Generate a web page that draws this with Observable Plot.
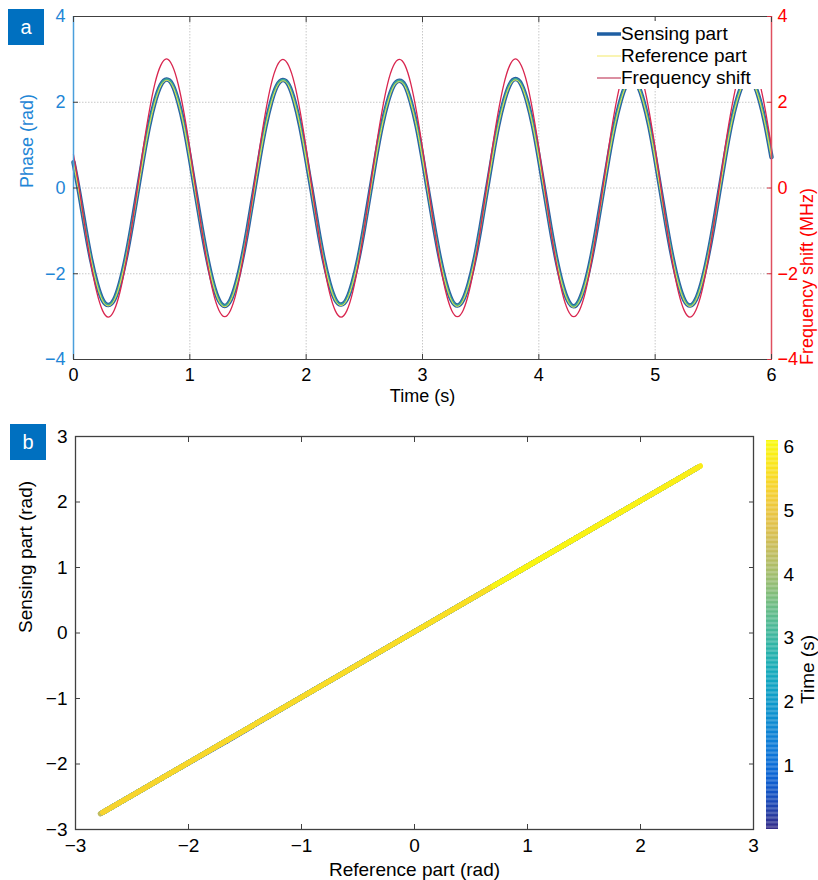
<!DOCTYPE html>
<html><head><meta charset="utf-8">
<script src="https://cdn.jsdelivr.net/npm/d3@7"></script>
<script src="https://cdn.jsdelivr.net/npm/@observablehq/plot@0.6"></script>
<style>
body{margin:0;background:#fff;font-family:"Liberation Sans",Arial,sans-serif;}
#wrap{position:relative;width:818px;height:880px;overflow:hidden;background:#fff;}
.pl{position:absolute;}
.tag{position:absolute;width:36px;height:36px;background:#0070c0;color:#fff;font-size:20px;display:flex;align-items:center;justify-content:center;font-family:"Liberation Sans",Arial,sans-serif;}
#legend{position:absolute;left:594px;top:21px;width:170px;height:68px;background:#fff;font-size:19px;color:#000;}
.row{position:absolute;left:0;height:22px;display:flex;align-items:center;white-space:nowrap;}
</style></head>
<body>
<div id="wrap">
  <div id="pa" class="pl" style="left:0;top:0"></div>
  <div id="pb" class="pl" style="left:0;top:410px"></div>
  <div id="cb" class="pl" style="left:760px;top:410px"></div>
  <div class="tag" style="left:8px;top:9px">a</div>
  <div class="tag" style="left:10px;top:424px">b</div>
  <div id="legend"></div>
</div>
<script>
// ---------- data ----------
const time = [0,0.05,0.1,0.15,0.2,0.25,0.3,0.35,0.4,0.45,0.5,0.55,0.6,0.65,0.7,0.75,0.8,0.85,0.9,0.95,
1,1.05,1.1,1.15,1.2,1.25,1.3,1.35,1.4,1.45,1.5,1.55,1.6,1.65,1.7,1.75,1.8,1.85,1.9,1.95,
2,2.05,2.1,2.15,2.2,2.25,2.3,2.35,2.4,2.45,2.5,2.55,2.6,2.65,2.7,2.75,2.8,2.85,2.9,2.95,
3,3.05,3.1,3.15,3.2,3.25,3.3,3.35,3.4,3.45,3.5,3.55,3.6,3.65,3.7,3.75,3.8,3.85,3.9,3.95,
4,4.05,4.1,4.15,4.2,4.25,4.3,4.35,4.4,4.45,4.5,4.55,4.6,4.65,4.7,4.75,4.8,4.85,4.9,4.95,
5,5.05,5.1,5.15,5.2,5.25,5.3,5.35,5.4,5.45,5.5,5.55,5.6,5.65,5.7,5.75,5.8,5.85,5.9,5.95,6];

const sensing = [0.60,-0.12,-0.92,-1.65,-2.22,-2.61,-2.73,-2.60,-2.21,-1.63,-0.90,-0.09,0.72,1.45,2.02,2.40,2.53,2.41,2.02,1.45,
0.70,-0.11,-0.91,-1.64,-2.23,-2.62,-2.75,-2.61,-2.22,-1.64,-0.91,-0.10,0.71,1.44,2.01,2.39,2.52,2.40,2.01,1.43,
0.69,-0.10,-0.92,-1.65,-2.22,-2.60,-2.72,-2.59,-2.20,-1.63,-0.90,-0.09,0.72,1.44,2.00,2.38,2.50,2.39,2.00,1.44,
0.70,-0.11,-0.91,-1.64,-2.22,-2.61,-2.74,-2.60,-2.21,-1.64,-0.91,-0.10,0.71,1.45,2.02,2.41,2.54,2.41,2.02,1.45,
0.71,-0.10,-0.92,-1.65,-2.23,-2.62,-2.76,-2.61,-2.22,-1.64,-0.90,-0.09,0.72,1.44,2.01,2.40,2.52,2.40,2.01,1.44,
0.70,-0.11,-0.91,-1.64,-2.22,-2.61,-2.74,-2.60,-2.21,-1.63,-0.91,-0.10,0.71,1.45,2.02,2.41,2.55,2.42,2.03,1.45,0.72];

const reference = [0.58,-0.14,-0.94,-1.66,-2.24,-2.63,-2.75,-2.62,-2.23,-1.65,-0.92,-0.11,0.70,1.43,2.00,2.38,2.51,2.39,2.00,1.43,
0.68,-0.13,-0.93,-1.66,-2.25,-2.64,-2.77,-2.63,-2.24,-1.66,-0.93,-0.12,0.69,1.42,1.99,2.37,2.50,2.38,1.99,1.41,
0.67,-0.12,-0.94,-1.67,-2.24,-2.62,-2.74,-2.61,-2.22,-1.65,-0.92,-0.11,0.70,1.42,1.98,2.36,2.48,2.37,1.98,1.42,
0.68,-0.13,-0.93,-1.66,-2.24,-2.63,-2.76,-2.62,-2.23,-1.66,-0.93,-0.12,0.69,1.43,2.00,2.39,2.52,2.39,2.00,1.43,
0.69,-0.12,-0.94,-1.67,-2.25,-2.64,-2.78,-2.63,-2.24,-1.66,-0.92,-0.11,0.70,1.42,1.99,2.38,2.50,2.38,1.99,1.42,
0.68,-0.13,-0.93,-1.66,-2.24,-2.63,-2.76,-2.62,-2.23,-1.65,-0.93,-0.12,0.69,1.43,2.00,2.39,2.53,2.40,2.01,1.43,0.70];

const freqShift = [0.78,-0.02,-0.94,-1.77,-2.43,-2.86,-3.01,-2.85,-2.42,-1.75,-0.92,0.01,0.94,1.77,2.44,2.86,3.01,2.85,2.42,1.75,
0.92,0.00,-0.93,-1.76,-2.43,-2.85,-3.00,-2.85,-2.43,-1.76,-0.93,0.00,0.93,1.76,2.43,2.85,3.00,2.85,2.43,1.76,
0.93,0.00,-0.93,-1.76,-2.43,-2.86,-3.01,-2.86,-2.43,-1.76,-0.93,0.00,0.93,1.76,2.43,2.85,3.00,2.86,2.43,1.76,
0.93,0.01,-0.92,-1.76,-2.42,-2.85,-3.00,-2.85,-2.42,-1.76,-0.93,0.00,0.93,1.76,2.43,2.86,3.01,2.85,2.43,1.76,
0.93,0.00,-0.93,-1.76,-2.43,-2.85,-3.00,-2.85,-2.43,-1.76,-0.93,0.00,0.93,1.77,2.43,2.85,3.00,2.85,2.43,1.76,
0.93,0.00,-0.93,-1.76,-2.43,-2.86,-3.01,-2.85,-2.43,-1.76,-0.93,0.00,0.93,1.76,2.43,2.86,3.00,2.85,2.43,1.77,0.95];

const seriesNames = ["Sensing part", "Reference part", "Frequency shift"];
const timeTicks = [0,1,2,3,4,5,6];
const phaseTicks = [-4,-2,0,2,4];
const freqTicks = [-4,-2,0,2,4];
const radTicks = [-3,-2,-1,0,1,2,3];
const cbarTicks = [1,2,3,4,5,6];
const parula = ["#352a87","#0363e1","#1485d4","#06a7c6","#38b99e","#92bf73","#d9ba56","#fcce2e","#f9fb0e"];

// ---------- build ----------
const FONT = "Liberation Sans, Arial, sans-serif";
const fmt = d3.format("d");
const BLUE = "#1f86d6", RED = "#ff0000", DARK = "#404040";
const xDomA = [0,6], yDomA = [-4,4];

const dataA = time.map((t,i) => ({t, sens: sensing[i], ref: reference[i], freq: freqShift[i]}));

const plotA = Plot.plot({
  width: 818, height: 410,
  marginLeft: 73, marginRight: 47, marginTop: 16, marginBottom: 51,
  x: {domain: xDomA}, y: {domain: yDomA},
  style: {fontFamily: FONT, fontSize: "18px", background: "transparent", overflow: "visible"},
  marks: [
    Plot.gridX(timeTicks, {stroke: "#c8c8c8", strokeOpacity: 1, strokeDasharray: "1.5,1.5"}),
    Plot.gridY(phaseTicks, {stroke: "#c8c8c8", strokeOpacity: 1, strokeDasharray: "1.5,1.5"}),
    Plot.line(dataA, {x: "t", y: "sens", stroke: "#2a5fa3", strokeWidth: 4.5, curve: "natural"}),
    Plot.line(dataA, {x: "t", y: "sens", stroke: "#3aaa98", strokeWidth: 2.4, strokeDasharray: "2.5,1.5", curve: "natural"}),
    Plot.line(dataA, {x: "t", y: "ref", stroke: "#f2e24a", strokeWidth: 1, curve: "natural"}),
    Plot.line(dataA, {x: "t", y: "freq", stroke: "#d9264f", strokeWidth: 1.3, curve: "natural"}),
    Plot.ruleY([yDomA[1]], {stroke: DARK, strokeWidth: 1.2}),
    Plot.ruleY([yDomA[0]], {stroke: DARK, strokeWidth: 1.2}),
    Plot.ruleX([xDomA[0]], {stroke: "#4a9fdc", strokeWidth: 1.5}),
    Plot.ruleX([xDomA[1]], {stroke: "#e0505f", strokeWidth: 1.5}),
    Plot.axisX({ticks: timeTicks, tickSize: -5, tickPadding: 14, tickFormat: fmt, color: "#000", stroke: DARK, label: null, fontSize: 18}),
    Plot.axisX({anchor: "top", ticks: timeTicks, tickSize: -5, tickFormat: () => "", stroke: DARK, label: null}),
    Plot.axisY({ticks: phaseTicks, tickSize: -5, tickPadding: 13, tickFormat: fmt, color: BLUE, stroke: DARK, label: null, fontSize: 18}),
    Plot.axisY({anchor: "right", ticks: freqTicks, tickSize: -5, tickPadding: 11, tickFormat: fmt, color: RED, stroke: "#d03040", label: null, fontSize: 18}),
    Plot.text(["Time (s)"], {frameAnchor: "bottom", dy: 37, text: d => d, fill: "#000", fontSize: 18, lineAnchor: "middle"}),
    Plot.text(["Phase (rad)"], {frameAnchor: "left", dx: -46, rotate: -90, text: d => d, fill: BLUE, fontSize: 18, lineAnchor: "middle"}),
    Plot.text(["Frequency shift (MHz)"], {frameAnchor: "right", dx: 36, rotate: -90, text: d => d, fill: RED, fontSize: 18, lineAnchor: "middle"})
  ]
});
document.getElementById("pa").appendChild(plotA);

// legend
const legendSwatches = [
  {stroke: "#1f5fa3", w: 3.5},
  {stroke: "#f5ec80", w: 1.2},
  {stroke: "#cf6a82", w: 1.5}
];
const leg = document.getElementById("legend");
seriesNames.forEach((name, i) => {
  const row = document.createElement("div");
  row.className = "row";
  row.style.top = (2 + i * 22) + "px";
  row.innerHTML = `<svg width="27" height="22"><line x1="3" x2="27" y1="11" y2="11" stroke="${legendSwatches[i].stroke}" stroke-width="${legendSwatches[i].w}"/></svg><span>${name}</span>`;
  leg.appendChild(row);
});

// panel b
const segs = [];
for (let i = 1; i < time.length; i++) {
  segs.push({x1: reference[i-1], y1: sensing[i-1], x2: reference[i], y2: sensing[i], t: time[i]});
}
const colorScale = {type: "linear", domain: [0, 6.1], interpolate: d3.interpolateRgbBasis(parula)};
const radDom = [-3, 3];

const plotB = Plot.plot({
  width: 818, height: 470,
  marginLeft: 75, marginRight: 65, marginTop: 26, marginBottom: 51,
  x: {domain: radDom}, y: {domain: radDom},
  color: colorScale,
  style: {fontFamily: FONT, fontSize: "19px", background: "transparent", overflow: "visible"},
  marks: [
    Plot.link(segs, {x1: "x1", y1: "y1", x2: "x2", y2: "y2", stroke: "t", strokeWidth: 5, strokeLinecap: "round"}),
    Plot.frame({stroke: DARK, strokeWidth: 1.3}),
    Plot.axisX({ticks: radTicks, tickSize: -5, tickPadding: 14, tickFormat: fmt, color: "#000", stroke: DARK, label: null, fontSize: 19}),
    Plot.axisX({anchor: "top", ticks: radTicks, tickSize: -5, tickFormat: () => "", stroke: DARK, label: null}),
    Plot.axisY({ticks: radTicks, tickSize: -5, tickPadding: 13, tickFormat: fmt, color: "#000", stroke: DARK, label: null, fontSize: 19}),
    Plot.axisY({anchor: "right", ticks: radTicks, tickSize: -5, tickFormat: () => "", stroke: DARK, label: null}),
    Plot.text(["Reference part (rad)"], {frameAnchor: "bottom", dy: 40, text: d => d, fill: "#000", fontSize: 19, lineAnchor: "middle"}),
    Plot.text(["Sensing part (rad)"], {frameAnchor: "left", dx: -50, rotate: -90, text: d => d, fill: "#000", fontSize: 19, lineAnchor: "middle"})
  ]
});
document.getElementById("pb").appendChild(plotB);

// colorbar
const bands = d3.range(0, 6.1, 0.02).map(v => ({y1: v, y2: Math.min(v + 0.021, 6.1), mid: v + 0.01}));
const plotC = Plot.plot({
  width: 58, height: 470,
  marginLeft: 6, marginRight: 40, marginTop: 30, marginBottom: 51,
  x: {domain: [0, 1], axis: null},
  y: {domain: [0, 6.1]},
  color: colorScale,
  style: {fontFamily: FONT, fontSize: "19px", background: "transparent", overflow: "visible"},
  marks: [
    Plot.rect(bands, {x1: () => 0, x2: () => 1, y1: "y1", y2: "y2", fill: "mid"}),
    Plot.axisY({anchor: "right", ticks: cbarTicks, tickSize: 0, tickPadding: 5, tickFormat: fmt, color: "#000", label: null, fontSize: 19}),
    Plot.text(["Time (s)"], {frameAnchor: "right", dx: 29, rotate: -90, text: d => d, fill: "#000", fontSize: 19, lineAnchor: "middle"})
  ]
});
document.getElementById("cb").appendChild(plotC);
</script>
</body></html>
